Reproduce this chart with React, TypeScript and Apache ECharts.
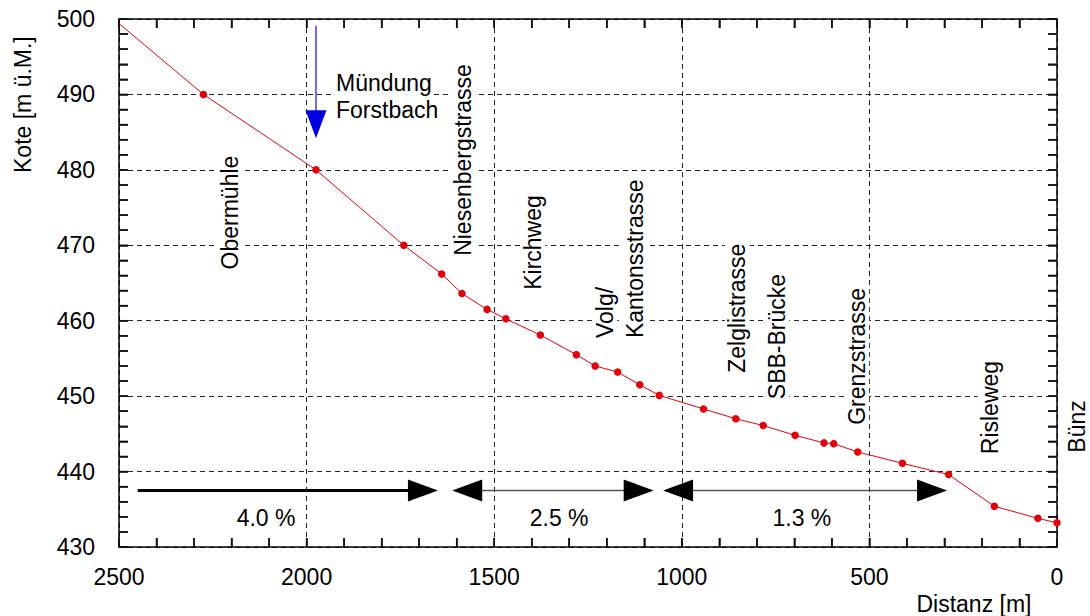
import React, { useEffect, useRef } from 'react';
import * as echarts from 'echarts';

const FONT = '"Liberation Sans", Arial, Helvetica, sans-serif';

// Longitudinal profile: distance [m] and elevation [m ü.M.]
const distance = [2500, 2275, 1975, 1741, 1640, 1586, 1519, 1469, 1377, 1281, 1231, 1171, 1112, 1060, 942, 856, 783, 698, 621, 595, 531, 412, 289, 167, 51, 0];
const elevation = [499.4, 490.0, 480.0, 470.0, 466.2, 463.6, 461.5, 460.25, 458.1, 455.5, 454.0, 453.2, 451.5, 450.1, 448.3, 447.0, 446.1, 444.8, 443.8, 443.7, 442.6, 441.1, 439.6, 435.4, 433.8, 433.2];

// Axis ticks
const xTicks = { min: 0, max: 2500, interval: 500, minorSplit: 5 };
const yTicks = { min: 430, max: 500, interval: 10, minorSplit: 5 };
const axisNames = ['Distanz [m]', 'Kote [m ü.M.]'];

// Landmark labels (rotated), anchored at their lower end
const landmarkNames = ['Obermühle', 'Niesenbergstrasse', 'Kirchweg', 'Volg/', 'Kantonsstrasse', 'Zelglistrasse', 'SBB-Brücke', 'Grenzstrasse', 'Risleweg', 'Bünz'];
const landmarkDist = [2204, 1584, 1397, 1205, 1125, 852, 747, 534, 178, -53];
const landmarkElev = [466.8, 468.6, 464.1, 457.7, 457.7, 453.1, 449.6, 446.2, 442.3, 442.5];

// Gradient arrows
const arrowFrom = [2450, 1612, 1050];
const arrowTo = [1650, 1075, 293];
const arrowElev = [437.5, 437.5, 437.5];
const slopeLabels = ['4.0 %', '2.5 %', '1.3 %'];
const slopeDist = [2108, 1327, 680];
const slopeElev = [433.9, 433.9, 433.9];

// Inflow of Forstbach
const inflowDist = [1975];
const inflowTop = [499.1];
const inflowTip = [484.2];
const inflowText = ['Mündung', 'Forstbach'];
const inflowTextDist = [1927, 1927];
const inflowTextElev = [491.55, 487.9];

export default function App() {
  const ref = useRef<HTMLDivElement>(null);

  useEffect(() => {
    const chart = echarts.init(ref.current!, null, { renderer: 'svg' });

    const TICK = 9;
    const xBase = { type: 'value', min: xTicks.min, max: xTicks.max, interval: xTicks.interval, inverse: true, gridIndex: 0 };
    const yBase = { type: 'value', min: yTicks.min, max: yTicks.max, interval: yTicks.interval, gridIndex: 0 };
    const mkLine = () => ({ show: true, onZero: false, lineStyle: { color: '#000', width: 1.5 } });
    const mkTick = () => ({ show: true, inside: true, length: TICK, lineStyle: { color: '#111', width: 1.5 } });
    const mkMinor = () => ({ show: true, splitNumber: xTicks.minorSplit, length: TICK, lineStyle: { color: '#111', width: 1.5 } });
    const mkSplit = () => ({ show: true, lineStyle: { color: '#222', width: 1, type: [5, 4] } });
    const labelStyle = { color: '#000', fontSize: 23, fontFamily: FONT };

    // tick positions generated from the axis settings
    const tickItems: number[][] = [];
    const xs = xTicks.interval / xTicks.minorSplit;
    const ys = yTicks.interval / yTicks.minorSplit;
    for (let v = xTicks.min; v <= xTicks.max + 1e-9; v += xs) tickItems.push([v, yTicks.min, 0]);
    for (let v = yTicks.min; v <= yTicks.max + 1e-9; v += ys) tickItems.push([xTicks.min, v, 1]);

    const option: any = {
      animation: false,
      grid: { left: 119, right: 33, top: 19, bottom: 69, containLabel: false },
      xAxis: [
        { ...xBase, position: 'bottom', axisLine: mkLine(), axisTick: mkTick(), minorTick: mkMinor(), splitLine: mkSplit(),
          axisLabel: { ...labelStyle, margin: 18, showMinLabel: true, showMaxLabel: true, formatter: (v: number) => String(v) } },
        { ...xBase, position: 'top', axisLine: mkLine(), axisTick: mkTick(), minorTick: mkMinor(),
          splitLine: { show: false }, axisLabel: { show: false } },
      ],
      yAxis: [
        { ...yBase, position: 'left', axisLine: mkLine(), axisTick: mkTick(), minorTick: mkMinor(), splitLine: mkSplit(),
          axisLabel: { ...labelStyle, margin: 24, showMinLabel: true, showMaxLabel: true, formatter: (v: number) => String(v) } },
        { ...yBase, position: 'right', axisLine: mkLine(), axisTick: mkTick(), minorTick: mkMinor(),
          splitLine: { show: false }, axisLabel: { show: false } },
      ],
      series: [
        {
          // inward ticks on all four sides of the frame
          type: 'custom', name: 'frameTicks', clip: false, silent: true, z: 5,
          data: tickItems,
          renderItem: (params: any, api: any) => {
            const st = { stroke: '#111', lineWidth: 1.5 };
            if (api.value(2) === 0) {
              const b = api.coord([api.value(0), yTicks.min]);
              const t = api.coord([api.value(0), yTicks.max]);
              return { type: 'group', children: [
                { type: 'line', shape: { x1: b[0], y1: b[1], x2: b[0], y2: b[1] - TICK }, style: { ...st } },
                { type: 'line', shape: { x1: t[0], y1: t[1], x2: t[0], y2: t[1] + TICK }, style: { ...st } },
              ] };
            }
            const l = api.coord([xTicks.max, api.value(1)]);
            const r = api.coord([xTicks.min, api.value(1)]);
            return { type: 'group', children: [
              { type: 'line', shape: { x1: l[0], y1: l[1], x2: l[0] + TICK, y2: l[1] }, style: { ...st } },
              { type: 'line', shape: { x1: r[0], y1: r[1], x2: r[0] - TICK, y2: r[1] }, style: { ...st } },
            ] };
          },
        },
        {
          // axis titles, placed relative to the plot corners
          type: 'custom', name: 'axisNames', clip: false, silent: true,
          data: [[xTicks.min, yTicks.min, 0], [xTicks.max, yTicks.max, 1]],
          renderItem: (params: any, api: any) => {
            const i = api.value(2);
            const p = api.coord([api.value(0), api.value(1)]);
            if (i === 0) {
              return { type: 'text', x: p[0] - 25.5, y: p[1] + 57,
                style: { text: axisNames[0], fill: '#000', fontSize: 23, fontFamily: FONT, align: 'right', verticalAlign: 'middle' } };
            }
            return { type: 'text', x: p[0] - 96.5, y: p[1] + 154, rotation: Math.PI / 2,
              style: { text: axisNames[1], fill: '#000', fontSize: 23, fontFamily: FONT, align: 'left', verticalAlign: 'middle' } };
          },
        },
        {
          type: 'custom', name: 'landmarks', clip: false, silent: true,
          data: landmarkDist.map((d, i) => [d, landmarkElev[i], i]),
          renderItem: (params: any, api: any) => {
            const p = api.coord([api.value(0), api.value(1)]);
            return {
              type: 'text', x: p[0], y: p[1], rotation: Math.PI / 2,
              style: { text: landmarkNames[api.value(2)], fill: '#000', fontSize: 23, fontFamily: FONT,
                align: 'left', verticalAlign: 'middle', backgroundColor: '#fff', padding: [1, 0] },
            };
          },
        },
        {
          type: 'custom', name: 'inflowText', clip: false, silent: true,
          data: inflowTextDist.map((d, i) => [d, inflowTextElev[i], i]),
          renderItem: (params: any, api: any) => {
            const p = api.coord([api.value(0), api.value(1)]);
            return {
              type: 'text', x: p[0], y: p[1],
              style: { text: inflowText[api.value(2)], fill: '#000', fontSize: 23, fontFamily: FONT,
                align: 'left', verticalAlign: 'middle', backgroundColor: '#fff', padding: [2, 2] },
            };
          },
        },
        {
          type: 'custom', name: 'inflowArrow', clip: false, silent: true,
          data: inflowDist.map((d, i) => [d, inflowTop[i], inflowTip[i]]),
          renderItem: (params: any, api: any) => {
            const top = api.coord([api.value(0), api.value(1)]);
            const tip = api.coord([api.value(0), api.value(2)]);
            const L = 28, H = 10.5;
            return {
              type: 'group',
              children: [
                { type: 'line', shape: { x1: top[0], y1: top[1], x2: tip[0], y2: tip[1] - L + 2 },
                  style: { stroke: '#3b3bff', lineWidth: 1.5 } },
                { type: 'polygon', shape: { points: [[tip[0], tip[1]], [tip[0] - H, tip[1] - L], [tip[0] + H, tip[1] - L]] },
                  style: { fill: '#0000e0' } },
              ],
            };
          },
        },
        {
          type: 'custom', name: 'gradients', clip: false, silent: true,
          data: arrowFrom.map((d, i) => [d, arrowTo[i], arrowElev[i], i]),
          renderItem: (params: any, api: any) => {
            const i = api.value(3);
            const p1 = api.coord([api.value(0), api.value(2)]);
            const p2 = api.coord([api.value(1), api.value(2)]);
            const dir = Math.sign(p2[0] - p1[0]);
            const L = 30, H = 11;
            const startHead = i !== 0;
            const thick = i === 0;
            const children: any[] = [
              { type: 'line',
                shape: { x1: p1[0] + (startHead ? dir * (L - 2) : 0), y1: p1[1], x2: p2[0] - dir * (L - 2), y2: p2[1] },
                style: { stroke: thick ? '#000' : '#555', lineWidth: thick ? 3 : 1.5 } },
              { type: 'polygon',
                shape: { points: [[p2[0], p2[1]], [p2[0] - dir * L, p2[1] - H], [p2[0] - dir * L, p2[1] + H]] },
                style: { fill: '#000' } },
            ];
            if (startHead) {
              children.push({ type: 'polygon',
                shape: { points: [[p1[0], p1[1]], [p1[0] + dir * L, p1[1] - H], [p1[0] + dir * L, p1[1] + H]] },
                style: { fill: '#000' } });
            }
            return { type: 'group', children };
          },
        },
        {
          type: 'custom', name: 'slopes', clip: false, silent: true,
          data: slopeDist.map((d, i) => [d, slopeElev[i], i]),
          renderItem: (params: any, api: any) => {
            const p = api.coord([api.value(0), api.value(1)]);
            return {
              type: 'text', x: p[0], y: p[1],
              style: { text: slopeLabels[api.value(2)], fill: '#000', fontSize: 23, fontFamily: FONT,
                align: 'center', verticalAlign: 'middle' },
            };
          },
        },
        {
          type: 'line', name: 'Sohle',
          data: distance.map((d, i) => (i === 0 ? { value: [d, elevation[i]], symbol: 'none' } : [d, elevation[i]])),
          symbol: 'circle', symbolSize: 7.5, showSymbol: true,
          itemStyle: { color: '#e3000b' },
          lineStyle: { color: '#e3000b', width: 1 },
        },
      ],
    };

    chart.setOption(option);
    return () => chart.dispose();
  }, []);

  return (
    <div
      ref={ref}
      style={{ position: 'absolute', left: 0, top: 0, width: 1090, height: 616, background: '#fff' }}
    />
  );
}
